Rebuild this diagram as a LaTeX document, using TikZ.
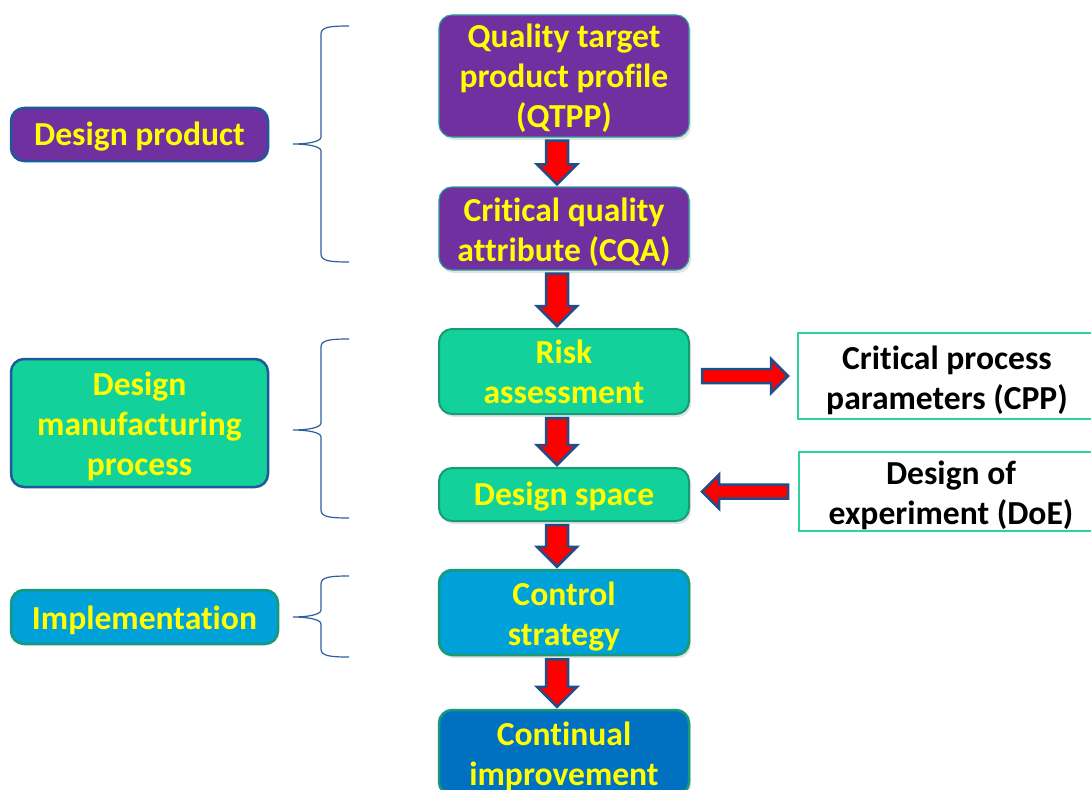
\documentclass[tikz,border=0pt]{standalone}
\usepackage{fontspec}
\setmainfont{Carlito}[RawFeature=-liga]
\usetikzlibrary{calc,shadows}
\definecolor{qpurple}{HTML}{7030A0}
\definecolor{qgreen}{HTML}{13D19A}
\definecolor{qcyan}{HTML}{00A0D8}
\definecolor{qblue}{HTML}{0070C0}
\definecolor{qyellow}{HTML}{FFFF00}
\definecolor{bteal}{HTML}{2A9C9A}
\definecolor{bgreen}{HTML}{189A78}
\definecolor{bdark}{HTML}{1F5A98}
\definecolor{bright}{HTML}{2CD3A0}
\definecolor{abord}{HTML}{1F4E8A}
\definecolor{brcol}{HTML}{2E5E9E}
\newcommand\sh[2][3pt]{\raisebox{-#1}[\height][\depth]{#2}}
\tikzset{
  box/.style={rectangle, rounded corners=13pt, align=center, text=qyellow,
    font=\bfseries\fontsize{33.6}{40}\selectfont, inner sep=0pt},
  shad/.style={drop shadow={opacity=0.22, shadow xshift=2pt, shadow yshift=-3pt}},
  purplebox/.style={box, fill=qpurple, draw=bteal, line width=1.2pt, shad},
  greenbox/.style={box, fill=qgreen, draw=bgreen, line width=2pt, shad},
  cyanbox/.style={box, fill=qcyan, draw=bgreen, line width=2.5pt, shad},
  bluebox/.style={box, fill=qblue, draw=bgreen, line width=2.5pt, shad},
  sidebox/.style={rectangle, draw=bright, fill=white, line width=2pt, align=center,
    text=black, font=\bfseries\fontsize{33.6}{40}\selectfont, inner sep=0pt},
  blockarrow/.style={fill=red, draw=abord, line width=2.5pt, line join=miter},
  bracestyle/.style={draw=brcol, line width=1.2pt}
}
\newcommand\dnarrow[2]{\draw[blockarrow] let \p1=(#1.south), \p2=(#2.north) in
  (\x1-18pt,\y1-3pt) -- (\x1+4pt,\y1-3pt) -- (\x1+4pt,\y2+22pt) -- (\x1+13pt,\y2+22pt)
  -- (\x1-7pt,\y2+2pt) -- (\x1-27pt,\y2+22pt) -- (\x1-18pt,\y2+22pt) -- cycle;}
\newcommand\bracepath[3]{\draw[bracestyle]
  (349,#1) .. controls (330,#1) and (321,#1+1) .. (321,#1+8) -- (321,#2-7)
  .. controls (321,#2-2) and (306,#2) .. (293,#2)
  .. controls (306,#2) and (321,#2+2) .. (321,#2+7) -- (321,#3-8)
  .. controls (321,#3-1) and (330,#3) .. (349,#3);}
\begin{document}
\begin{tikzpicture}[x=1pt,y=-1pt]
\useasboundingbox (0,0) rectangle (1091,789);
% centre column
\node[purplebox, minimum width=250pt, minimum height=122pt] (qtpp) at (564,76)
  {\sh[2pt]{Quality target}\\\sh[2pt]{product profile}\\\sh[2pt]{(QTPP)}};
\node[purplebox, minimum width=250pt, minimum height=83pt] (cqa) at (564,228.5)
  {\sh[3.5pt]{Critical quality}\\\sh[3.5pt]{attribute (CQA)}};
\node[greenbox, minimum width=250pt, minimum height=85pt] (risk) at (564,371.5)
  {\sh[0.5pt]{Risk}\\\sh[0.5pt]{assessment}};
\node[greenbox, minimum width=250pt, minimum height=53pt] (space) at (564,494.5)
  {\sh[2pt]{Design space}};
\node[cyanbox, minimum width=250pt, minimum height=85pt] (ctrl) at (564,612.5)
  {\sh[4pt]{Control}\\\sh[4pt]{strategy}};
\node[bluebox, minimum width=250pt, minimum height=85pt] (cont) at (564,752.5)
  {\sh[4pt]{Continual}\\\sh[4pt]{improvement}};
% left column
\node[box, fill=qpurple, draw=bdark, line width=2.5pt, minimum width=257pt, minimum height=53pt]
  (dprod) at (139.5,134.5) {\sh[2pt]{Design product}};
\node[box, fill=qgreen, draw=bdark, line width=2.5pt, minimum width=257pt, minimum height=128pt]
  (dmp) at (139.5,423) {\sh{Design}\\\sh{manufacturing}\\\sh{process}};
\node[box, fill=qcyan, draw=bgreen, line width=2.5pt, minimum width=267pt, minimum height=54pt]
  (impl) at (144.5,617) {\sh{Implementation}};
% right column
\node[sidebox, minimum width=298pt, minimum height=86pt] (cpp) at (947,376)
  {\sh[4.5pt]{Critical process}\\\sh[4.5pt]{parameters (CPP)}};
\node[sidebox, minimum width=304pt, minimum height=79pt] (doe) at (951,491.5)
  {\sh[4pt]{Design of}\\\sh[4pt]{experiment (DoE)}};
% braces
\bracepath{26}{144}{262}
\bracepath{339}{430}{518}
\bracepath{576}{617}{657}
% arrows down
\dnarrow{qtpp}{cqa}
\dnarrow{cqa}{risk}
\dnarrow{risk}{space}
\dnarrow{space}{ctrl}
\dnarrow{ctrl}{cont}
% side arrows
\draw[blockarrow] let \p1=(risk.east), \p2=(cpp.west) in
  (\x1+12pt,\y2+7pt) -- (\x2-26pt,\y2+7pt) -- (\x2-26pt,\y2+17pt) -- (\x2-9pt,\y2)
  -- (\x2-26pt,\y2-17pt) -- (\x2-26pt,\y2-7pt) -- (\x1+12pt,\y2-7pt) -- cycle;
\draw[blockarrow] let \p1=(doe.west), \p2=(space.east) in
  (\x1-10pt,\y1+7pt) -- (\x2+29pt,\y1+7pt) -- (\x2+29pt,\y1+17pt) -- (\x2+12pt,\y1)
  -- (\x2+29pt,\y1-17pt) -- (\x2+29pt,\y1-7pt) -- (\x1-10pt,\y1-7pt) -- cycle;
\end{tikzpicture}
\end{document}
